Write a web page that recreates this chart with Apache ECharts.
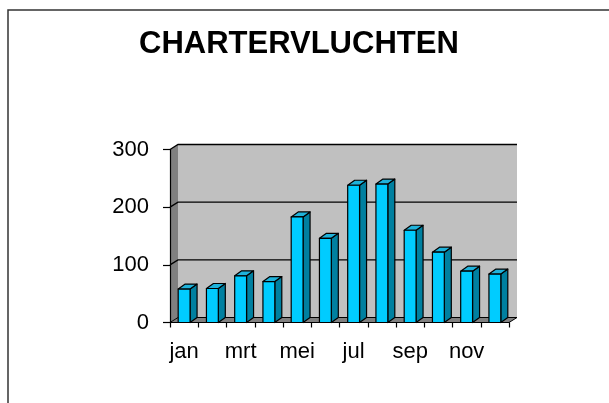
<!DOCTYPE html>
<html>
<head>
<meta charset="utf-8">
<script src="https://cdn.jsdelivr.net/npm/echarts@6/dist/echarts.min.js"></script>
<style>
  html, body { margin: 0; padding: 0; background: #fff; }
  #chart { width: 609px; height: 403px; }
</style>
</head>
<body>
<div id="chart"></div>
<script>
// maanden en aantal chartervluchten
var months = ['jan', 'feb', 'mrt', 'apr', 'mei', 'jun', 'jul', 'aug', 'sep', 'okt', 'nov', 'dec'];
var flights = [58, 59, 81, 71, 183, 146, 238, 240, 160, 122, 89, 84];
var yTicks = [0, 100, 200, 300];

var FONT = 'Liberation Sans, Arial, sans-serif';
var WALL_DX = 8, WALL_DY = 5;   // diepte van de achterwand
var BAR_DX = 7, BAR_DY = 5;     // diepte van een staaf

var myChart = echarts.init(document.getElementById('chart'));

// achterwand, zijwand, vloer en rasterlijnen
function renderBox(params, api) {
    var cs = params.coordSys;
    var x = cs.x, y = cs.y, w = cs.width, h = cs.height;
    var children = [];
    children.push({
        type: 'polygon',
        shape: { points: [[x + WALL_DX, y - WALL_DY], [x + w + WALL_DX, y - WALL_DY],
                          [x + w + WALL_DX, y + h - WALL_DY], [x + WALL_DX, y + h - WALL_DY]] },
        style: { fill: '#c0c0c0', stroke: null }
    });
    children.push({
        type: 'polygon',
        shape: { points: [[x, y], [x + WALL_DX, y - WALL_DY], [x + WALL_DX, y + h - WALL_DY], [x, y + h]] },
        style: { fill: '#808080', stroke: null }
    });
    children.push({
        type: 'polygon',
        shape: { points: [[x, y + h], [x + w, y + h], [x + w + WALL_DX, y + h - WALL_DY], [x + WALL_DX, y + h - WALL_DY]] },
        style: { fill: '#808080', stroke: '#000', lineWidth: 1 }
    });
    for (var i = 1; i < yTicks.length; i++) {
        var gy = api.coord([0, yTicks[i]])[1];
        children.push({
            type: 'polyline',
            shape: { points: [[x, gy], [x + WALL_DX, gy - WALL_DY], [x + w + WALL_DX, gy - WALL_DY]] },
            style: { fill: null, stroke: '#000', lineWidth: 1.3 }
        });
    }
    return { type: 'group', children: children, silent: true };
}

// 3D-staaf: voorkant, zijkant en bovenkant
function renderBar(params, api) {
    var top = api.coord([api.value(0), api.value(1)]);
    var base = api.coord([api.value(0), 0]);
    var band = api.size([1, 0])[0];
    var bw = band * 0.42;
    var x0 = top[0] - bw / 2, x1 = top[0] + bw / 2;
    var y0 = top[1], y1 = base[1];
    var line = { stroke: '#000', lineWidth: 1.2, lineJoin: 'round' };
    return {
        type: 'group',
        children: [{
            type: 'polygon',
            shape: { points: [[x1, y0], [x1 + BAR_DX, y0 - BAR_DY], [x1 + BAR_DX, y1 - BAR_DY], [x1, y1]] },
            style: Object.assign({ fill: '#0080a0' }, line)
        }, {
            type: 'polygon',
            shape: { points: [[x0, y0], [x0 + BAR_DX, y0 - BAR_DY], [x1 + BAR_DX, y0 - BAR_DY], [x1, y0]] },
            style: Object.assign({ fill: '#1fb2da' }, line)
        }, {
            type: 'rect',
            shape: { x: x0, y: y0, width: bw, height: y1 - y0 },
            style: Object.assign({ fill: '#00ccff' }, line)
        }]
    };
}

var option = {
    animation: false,
    backgroundColor: '#fff',
    title: {
        text: 'CHARTERVLUCHTEN',
        left: 139,
        top: 29,
        padding: 0,
        textStyle: { fontFamily: FONT, fontSize: 31, fontWeight: 'bold', color: '#000' }
    },
    graphic: [{
        type: 'rect',
        z: -10,
        shape: { x: 8, y: 10, width: 700, height: 500 },
        style: { fill: null, stroke: '#333', lineWidth: 1.5 }
    }],
    grid: { left: 170, right: 100, top: 149.5, bottom: 80.5 },
    xAxis: {
        type: 'category',
        data: months,
        z: 10,
        axisLine: { lineStyle: { color: '#000', width: 1.2 } },
        axisTick: { show: true, interval: 0, length: 5, lineStyle: { color: '#000', width: 1.2 } },
        axisLabel: { interval: 1, margin: 18, fontFamily: FONT, fontSize: 22, color: '#000' },
        splitLine: { show: false }
    },
    yAxis: {
        type: 'value',
        min: 0,
        max: 300,
        interval: 100,
        z: 10,
        axisLine: { show: true, lineStyle: { color: '#000', width: 1.2 } },
        axisTick: { show: true, length: 7, lineStyle: { color: '#000', width: 1.2 } },
        axisLabel: { margin: 21, fontFamily: FONT, fontSize: 22, color: '#000' },
        splitLine: { show: false }
    },
    series: [{
        type: 'custom',
        renderItem: renderBox,
        data: [[0, 0]],
        z: 1,
        silent: true
    }, {
        type: 'custom',
        renderItem: renderBar,
        data: months.map(function (m, i) { return [i, flights[i]]; }),
        encode: { x: 0, y: 1 },
        z: 2
    }]
};

myChart.setOption(option);
</script>
</body>
</html>
